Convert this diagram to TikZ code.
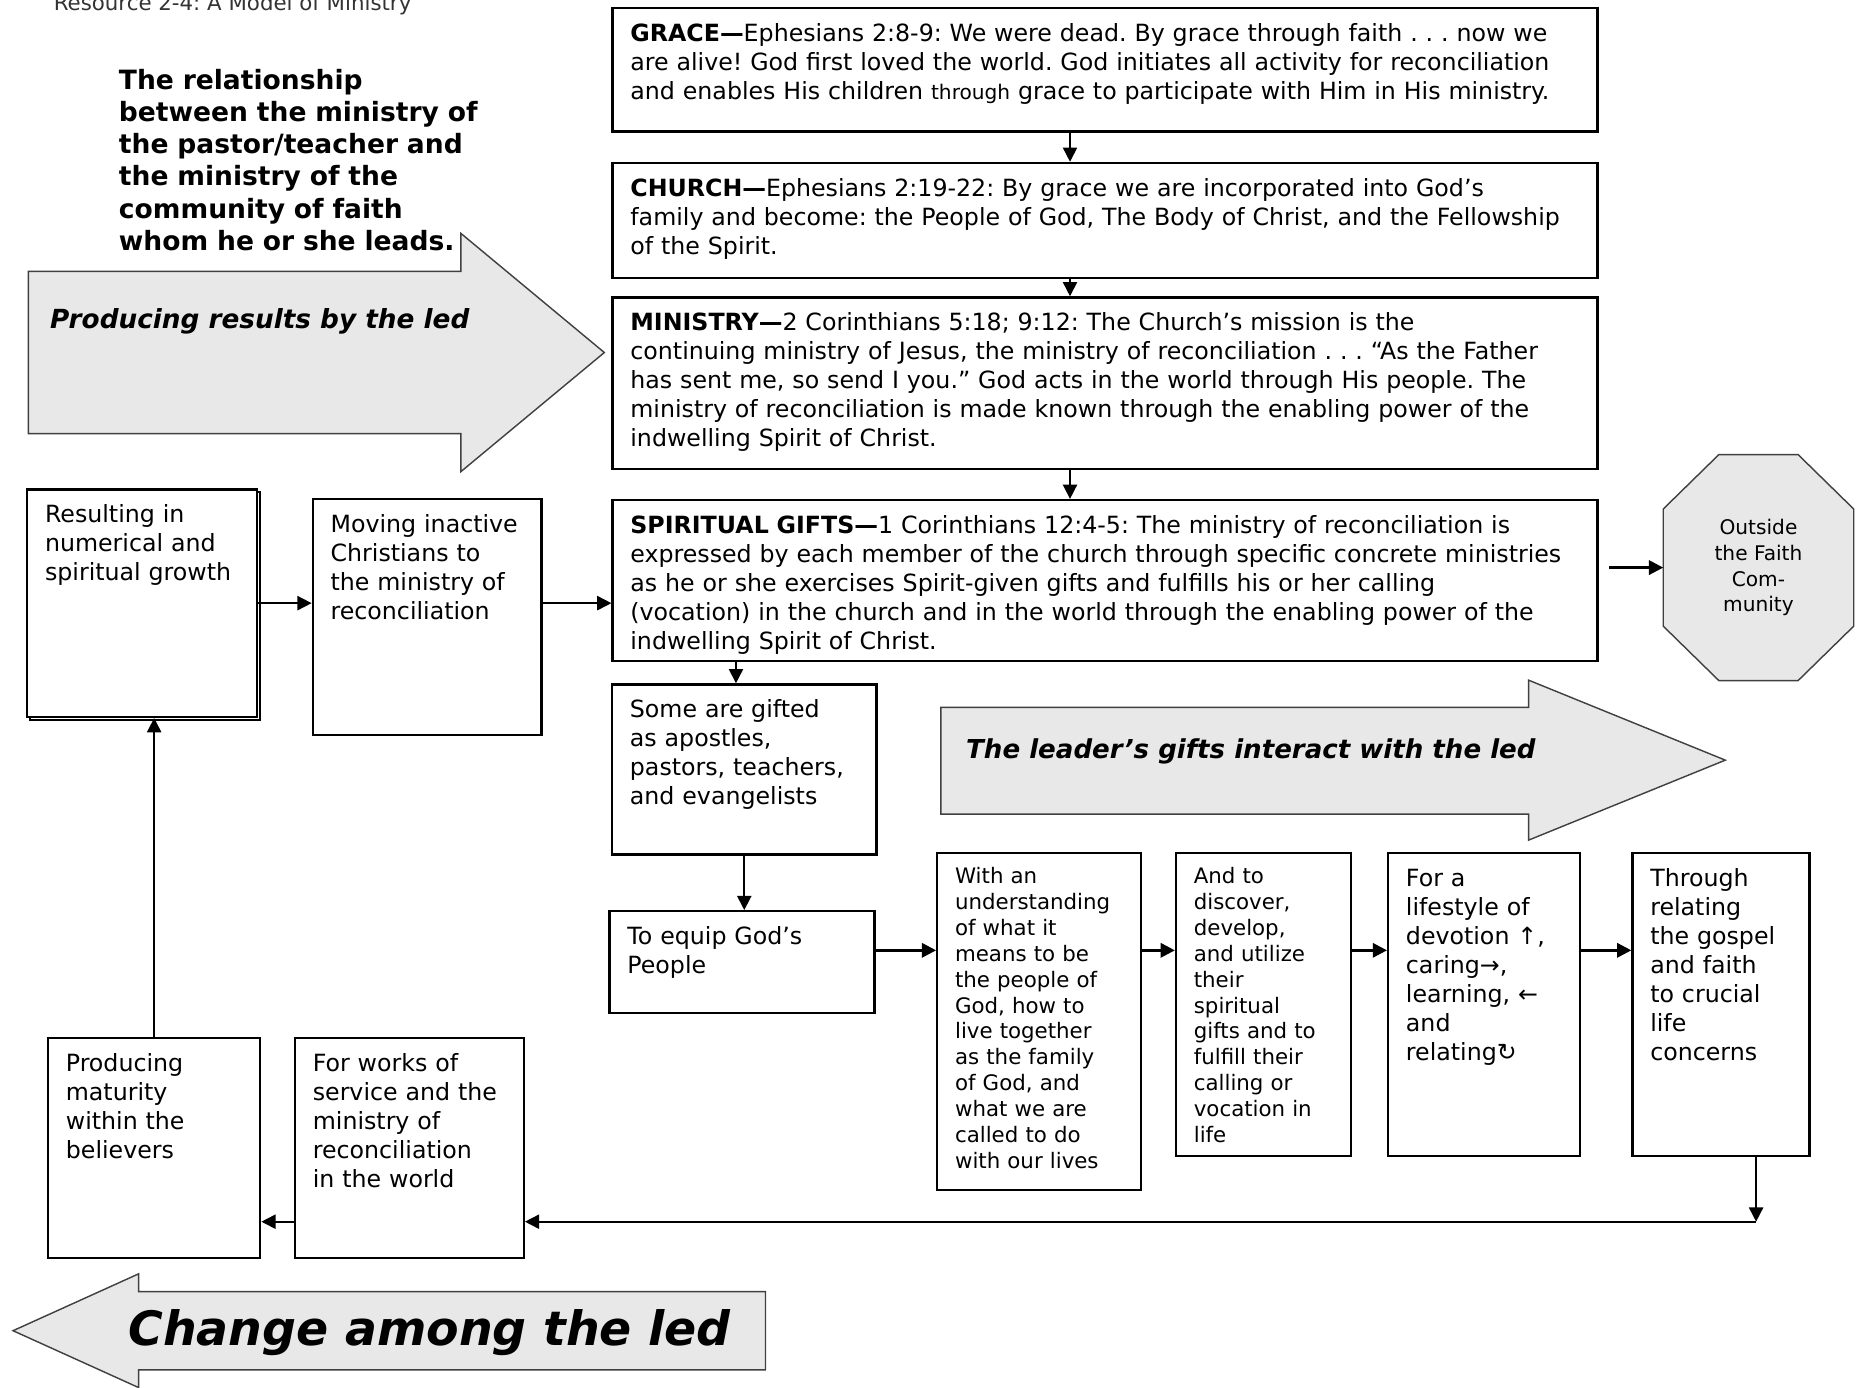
\documentclass[tikz,border=0pt]{standalone}
\usepackage{fontspec}
\setmainfont{DejaVu Sans}
\usepackage{tikz}
\usetikzlibrary{arrows.meta,calc,positioning,shadows,backgrounds}
\frenchspacing

\begin{document}
\begin{tikzpicture}[x=0.5pt,y=-0.5pt,
    box/.style={draw, line width=1pt, fill=white, anchor=north west, align=left,
      inner xsep=7.5pt, inner ysep=3pt, text height=11pt,
      font=\fontsize{10}{12.25}\selectfont},
    smallbox/.style={box, text height=10pt, font=\fontsize{9}{10.9}\selectfont},
    link/.style={-{Triangle[length=6pt,width=6pt]}, line width=.7pt},
    biglink/.style={link, line width=1.1pt},
    bigarrow/.style={draw=black!75, line width=.6pt, fill=black!9},
    arrowtext/.style={anchor=west, inner sep=0pt, font=\fontsize{11.1}{13}\selectfont\bfseries\itshape}]
  \useasboundingbox (0,0) rectangle (1568,1171);
  \begin{scope}[on background layer]
    \fill[white] (0,0) rectangle (1568,1171);
  \end{scope}

  \node[anchor=base west, inner sep=0pt, text=black!80, font=\fontsize{9}{11}\selectfont] (title) at (45,8.5) {Resource 2-4: A Model of Ministry};
  \node[anchor=north west, inner sep=0pt, text width=175pt, align=left, text height=8.4pt,
    font=\fontsize{11.2}{13.6}\selectfont\bfseries] (intro) at (100,58)
    {The relationship\\ between the ministry of\\ the pastor/teacher and\\ the ministry of the\\ community of faith\\ whom he or she leads.};

  \draw[bigarrow] (24,229) -- (389,229) -- (389,197) -- (510,297.5) -- (389,398) -- (389,366) -- (24,366) -- cycle;
  \node[arrowtext] (produce) at (42,271) {Producing results by the led};
  \draw[bigarrow] (794,597) -- (1290,597) -- (1290,574) -- (1456,641.5) -- (1290,709) -- (1290,687) -- (794,687) -- cycle;
  \node[arrowtext, font=\fontsize{11}{13}\selectfont\bfseries\itshape] (interact) at (815,634) {The leader’s gifts interact with the led};
  \draw[bigarrow] (646,1090) -- (117,1090) -- (117,1075) -- (11,1123) -- (117,1171) -- (117,1156) -- (646,1156) -- cycle;
  \node[arrowtext, font=\fontsize{20}{24}\selectfont\bfseries\itshape] (change) at (108,1125) {Change among the led};

  \node[box, text width=400.5pt, text depth=35pt] (grace) at (516,6)
    {\textbf{GRACE—}Ephesians 2:8-9: We were dead. By grace through faith . . . now we\\
     are alive! God first loved the world. God initiates all activity for reconciliation\\
     and enables His children {\fontsize{8.5}{10}\selectfont through} grace to participate with Him in His ministry.};
  \node[box, text width=400.5pt, text depth=31.5pt, below=12.25pt of grace] (church)
    {\textbf{CHURCH—}Ephesians 2:19-22: By grace we are incorporated into God’s\\
     family and become: the People of God, The Body of Christ, and the Fellowship\\
     of the Spirit.};
  \node[box, text width=400.5pt, text depth=55.5pt, below=7.25pt of church] (ministry)
    {\textbf{MINISTRY—}2 Corinthians 5:18; 9:12: The Church’s mission is the\\
     continuing ministry of Jesus, the ministry of reconciliation . . . “As the Father\\
     has sent me, so send I you.” God acts in the world through His people. The\\
     ministry of reconciliation is made known through the enabling power of the\\
     indwelling Spirit of Christ.};
  \node[box, text width=400.5pt, text depth=51pt, below=12pt of ministry] (spirit)
    {\textbf{SPIRITUAL GIFTS—}1 Corinthians 12:4-5: The ministry of reconciliation is\\
     expressed by each member of the church through specific concrete ministries\\
     as he or she exercises Spirit-given gifts and fulfills his or her calling\\
     (vocation) in the church and in the world through the enabling power of the\\
     indwelling Spirit of Christ.};

  \node[box, text width=82pt, text depth=79pt,
    copy shadow={shadow xshift=1.2pt, shadow yshift=-1.2pt, draw=black, line width=1pt}] (growth) at (22,412)
    {Resulting in\\ numerical and\\ spiritual growth};
  \node[box, text width=81.5pt, text depth=82.75pt] (moving) at (263,420)
    {Moving inactive\\ Christians to\\ the ministry of\\ reconciliation};

  \node[minimum width=80pt, minimum height=95pt, align=center, inner sep=0pt,
    font=\fontsize{8.5}{10.85}\selectfont] (outside) at (1484,479) {Outside\\ the Faith\\ Com-\\ munity};
  \begin{scope}[on background layer]
    \draw[bigarrow] ($(outside.north west)+(23.5pt,0)$) -- ($(outside.north east)+(-23.5pt,0)$)
      -- ($(outside.north east)+(0,-23pt)$) -- ($(outside.south east)+(0,23pt)$)
      -- ($(outside.south east)+(-23.5pt,0)$) -- ($(outside.south west)+(23.5pt,0)$)
      -- ($(outside.south west)+(0,23pt)$) -- ($(outside.north west)+(0,-23pt)$) -- cycle;
  \end{scope}

  \node[box, text width=96.5pt, text depth=54.7pt] (gifted) at (515.6,576.6)
    {Some are gifted\\ as apostles,\\ pastors, teachers,\\ and evangelists};
  \node[box, text width=96.75pt, text depth=25.85pt] (equip) at (513.5,768)
    {To equip God’s\\ People};
  \node[smallbox, text width=71pt, text depth=126.25pt] (withan) at (790,719)
    {With an\\ understanding\\ of what it\\ means to be\\ the people of\\ God, how to\\ live together\\ as the family\\ of God, and\\ what we are\\ called to do\\ with our lives};
  \node[smallbox, text width=58.75pt, text depth=111.85pt] (andto) at (991.5,719)
    {And to\\ discover,\\ develop,\\ and utilize\\ their\\ spiritual\\ gifts and to\\ fulfill their\\ calling or\\ vocation in\\ life};
  \node[box, text width=66pt, text depth=110.85pt] (fora) at (1170.5,719)
    {For a\\ lifestyle of\\ devotion ↑,\\ caring→,\\ learning, ←\\ and\\ relating↻};
  \node[box, text width=59.6pt, text depth=110.85pt] (through) at (1376.7,719)
    {Through\\ relating\\ the gospel\\ and faith\\ to crucial\\ life\\ concerns};
  \node[box, text width=81.5pt, text depth=75.75pt] (works) at (248,875)
    {For works of\\ service and the\\ ministry of\\ reconciliation\\ in the world};
  \node[box, text width=74.5pt, text depth=75.75pt] (maturity) at (39.6,875)
    {Producing\\ maturity\\ within the\\ believers};

  \coordinate (spine) at (903,0);
  \coordinate (rowy) at (0,802);
  \coordinate (turn) at (1482,1031);
  \coordinate (drop) at ([xshift=-3.5pt]gifted.north);
  \coordinate (gap) at ([xshift=4.5pt]spirit.east);

  \draw[link] (grace.south -| spine) -- (church.north -| spine);
  \draw[link] (church.south -| spine) -- (ministry.north -| spine);
  \draw[link] (ministry.south -| spine) -- (spirit.north -| spine);
  \draw[link] (drop |- spirit.south) -- (drop);
  \draw[link] (gifted.south) -- (gifted.south |- equip.north);
  \draw[link] (growth.east) -- (growth.east -| moving.west);
  \draw[link] (growth.east -| moving.east) -- (growth.east -| spirit.west);
  \draw[biglink] (gap |- outside.west) -- (outside.west);
  \draw[biglink] (equip.east |- rowy) -- (withan.west |- rowy);
  \draw[biglink] (withan.east |- rowy) -- (andto.west |- rowy);
  \draw[biglink] (andto.east |- rowy) -- (fora.west |- rowy);
  \draw[biglink] (fora.east |- rowy) -- (through.west |- rowy);
  \draw[link] (through.south -| turn) -- (turn);
  \draw[link] (turn) -- (turn -| works.east);
  \draw[link] (turn -| works.west) -- (turn -| maturity.east);
  \draw[link] (maturity.north) -- (maturity.north |- growth.south);
\end{tikzpicture}
\end{document}
